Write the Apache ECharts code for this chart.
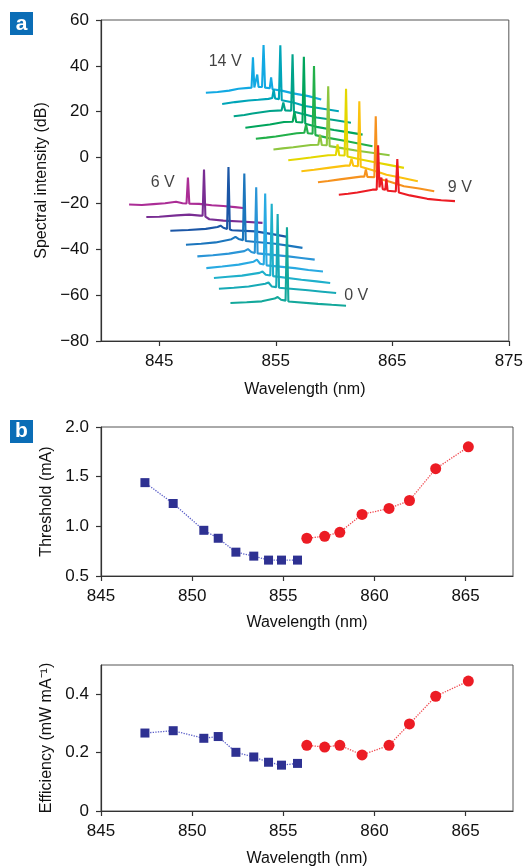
<!DOCTYPE html>
<html>
<head>
<meta charset="utf-8">
<script src="https://cdn.jsdelivr.net/npm/echarts@6/dist/echarts.min.js"></script>
<style>
  html, body { margin: 0; padding: 0; background: #fff; }
  #chart { width: 526px; height: 868px; }
</style>
</head>
<body>
<div id="chart"></div>
<script>
// ---- (a) emission spectra, [wavelength nm, intensity dB] ----
// upper stack: 14 V (top) down to 9 V (bottom)
const spec14V = [[849.00,28.3],[850.0,28.6],[851.0,29.2],[851.8,30.0],[852.67,30.4],[852.92,30.5],[853.04,43.7],[853.16,30.6],[853.30,31.0],[853.41,36.2],[853.52,30.8],[853.82,30.8],[853.95,49.1],[854.08,30.5],[854.48,30.2],[854.60,35.0],[854.72,29.8],[855.5,29.2],[856.5,28.0],[857.8,26.8],[858.90,25.3]];
const specU2 = [[850.40,23.4],[851.5,24.2],[852.67,24.9],[853.5,25.2],[854.37,25.6],[854.70,26.0],[854.82,29.7],[854.94,25.8],[855.27,25.5],[855.39,49.0],[855.51,25.0],[856.5,24.0],[857.5,22.5],[858.8,21.5],[860.41,20.2]];
const specU3 = [[851.39,18.0],[852.3,18.6],[853.0,19.2],[854.5,20.3],[855.5,20.6],[855.65,24.0],[855.8,20.6],[856.32,20.4],[856.44,45.0],[856.56,20.0],[857.5,18.8],[858.5,17.5],[860.0,16.4],[861.45,15.2]];
const specU4 = [[852.39,13.0],[853.5,13.8],[854.5,14.4],[855.7,15.5],[856.45,15.6],[856.6,20.0],[856.75,15.5],[857.29,15.3],[857.41,44.0],[857.53,14.8],[858.5,13.4],[860.0,12.0],[861.3,11.0],[862.45,10.0]];
const specU5 = [[853.29,8.2],[854.2,8.7],[855.0,9.2],[856.8,10.6],[857.45,10.8],[857.6,14.4],[857.75,10.6],[858.16,10.4],[858.28,39.9],[858.40,9.8],[859.5,8.6],[861.0,7.2],[862.2,6.0],[863.30,4.9]];
const specU6 = [[854.80,3.5],[855.6,4.0],[856.5,4.5],[858.0,5.5],[858.65,5.6],[858.8,10.0],[858.95,5.5],[859.38,5.4],[859.50,31.1],[859.62,5.0],[860.8,4.0],[862.0,3.0],[863.4,2.0],[864.77,1.0]];
const specU7 = [[856.07,-1.2],[857.0,-0.6],[858.0,0.0],[859.5,1.0],[860.15,1.1],[860.3,5.7],[860.45,1.0],[860.91,0.9],[861.03,30.0],[861.15,0.5],[862.3,-0.8],[863.5,-2.0],[864.8,-3.3],[866.0,-4.5]];
const specU8 = [[857.20,-6.0],[858.3,-5.3],[859.5,-4.5],[861.0,-3.5],[861.35,-3.5],[861.5,-0.5],[861.65,-3.6],[862.05,-3.8],[862.17,24.6],[862.29,-4.0],[863.4,-5.6],[864.5,-7.5],[865.8,-8.8],[867.19,-10.3]];
const specU9 = [[858.62,-10.8],[859.5,-10.2],[860.5,-9.5],[862.3,-8.3],[862.6,-8.3],[862.73,-5.2],[862.86,-8.4],[863.46,-8.6],[863.58,18.0],[863.70,-9.0],[864.8,-10.5],[866.0,-12.5],[867.3,-13.5],[868.60,-14.7]];
const spec9V = [[860.41,-16.2],[861.2,-15.8],[862.0,-15.2],[863.3,-14.0],[863.66,-14.0],[863.78,5.4],[863.90,-13.0],[863.98,-13.5],[864.06,-8.7],[864.18,-13.8],[864.40,-14.0],[864.49,-9.2],[864.60,-14.5],[865.30,-14.8],[865.43,-0.6],[865.56,-15.2],[866.5,-16.5],[868.0,-18.0],[869.2,-18.6],[870.38,-19.0]];

// lower stack: 6 V (top) down to 0 V (bottom)
const spec6V = [[842.41,-20.5],[843.5,-20.7],[844.5,-20.3],[845.5,-19.9],[846.44,-19.3],[847.0,-19.9],[847.34,-20.0],[847.46,-8.7],[847.58,-20.1],[848.42,-20.2],[849.5,-20.8],[850.5,-21.1],[851.5,-21.6],[852.39,-22.1]];
const specL2 = [[843.89,-25.9],[845.0,-25.8],[846.5,-25.2],[847.57,-24.9],[848.5,-25.3],[848.72,-25.4],[848.84,-5.2],[848.96,-25.8],[849.3,-26.9],[850.5,-27.5],[852.0,-27.9],[853.86,-28.5]];
const specL3 = [[845.95,-31.9],[847.5,-31.6],[848.99,-31.1],[850.0,-30.3],[850.26,-29.7],[850.5,-30.6],[850.82,-31.1],[850.94,-4.1],[851.06,-31.4],[851.25,-31.7],[853.24,-32.2],[854.7,-33.4],[855.99,-34.6]];
const specL4 = [[847.29,-38.0],[848.6,-37.6],[849.84,-37.0],[851.2,-35.6],[851.54,-34.6],[851.8,-35.5],[852.18,-36.0],[852.30,-7.0],[852.42,-36.4],[852.53,-36.5],[854.94,-37.6],[856.2,-38.5],[857.29,-39.4]];
const specL5 = [[848.27,-43.1],[849.6,-42.6],[850.97,-41.9],[852.3,-40.8],[852.61,-39.9],[852.9,-41.2],[853.20,-41.6],[853.32,-13.0],[853.44,-41.8],[853.52,-41.9],[856.07,-43.1],[857.2,-43.8],[858.34,-44.5]];
const specL6 = [[849.04,-48.2],[850.4,-47.5],[851.82,-46.7],[853.1,-45.4],[853.38,-44.5],[853.66,-46.3],[853.97,-46.6],[854.09,-15.7],[854.21,-47.0],[854.37,-47.2],[856.64,-48.2],[857.8,-49.0],[859.05,-49.7]];
const specL7 = [[849.69,-52.5],[850.9,-52.0],[852.10,-51.5],[853.6,-50.3],[853.86,-49.7],[854.14,-51.1],[854.53,-51.4],[854.65,-20.1],[854.77,-51.7],[857.20,-53.3],[858.5,-54.0],[859.67,-54.7]];
const specL8 = [[850.12,-57.2],[851.4,-56.8],[852.67,-56.2],[854.1,-55.0],[854.37,-54.5],[854.65,-56.2],[855.04,-56.5],[855.16,-24.6],[855.28,-56.8],[855.37,-56.9],[857.77,-57.9],[859.0,-58.5],[860.18,-59.1]];
const spec0V = [[851.11,-63.4],[852.5,-63.1],[853.80,-62.7],[854.9,-61.5],[855.16,-60.8],[855.45,-62.0],[855.84,-62.4],[855.96,-30.4],[856.08,-62.8],[856.22,-63.2],[858.62,-63.8],[859.8,-64.2],[861.03,-64.6]];

const upperSpectra = [spec14V, specU2, specU3, specU4, specU5, specU6, specU7, specU8, specU9, spec9V];
const upperColors = ['#12a9e3', '#00a5b8', '#00a38a', '#00a55c', '#22b04a', '#8ec63f', '#e4d700', '#fbc20f', '#f6921e', '#ec1c24'];
const lowerSpectra = [spec6V, specL2, specL3, specL4, specL5, specL6, specL7, specL8, spec0V];
const lowerColors = ['#ab2d96', '#792d93', '#1b56a6', '#1c76bd', '#2a95d7', '#29aae2', '#1fb0cb', '#17aab6', '#13a89b'];

// voltage labels [text, wavelength, dB]
const voltLabels = [['14 V', 850.65, 41.8], ['6 V', 845.3, -10.9], ['9 V', 870.8, -13.1], ['0 V', 861.9, -60.3]];

// axis ticks
const ticksXa = [845, 855, 865, 875];
const ticksXb = [845, 850, 855, 860, 865];
const ticksEff = [0, 0.2, 0.4];

// ---- (b) threshold and slope efficiency ----
const blueWl = [847.41, 848.96, 850.64, 851.43, 852.40, 853.38, 854.19, 854.90, 855.78];
const redWl = [856.29, 857.27, 858.10, 859.32, 860.80, 861.92, 863.36, 865.15];
const thrBlue = [1.44, 1.23, 0.96, 0.88, 0.74, 0.70, 0.66, 0.66, 0.66];
const thrRed = [0.88, 0.90, 0.94, 1.12, 1.18, 1.26, 1.58, 1.80];
const effBlue = [0.267, 0.275, 0.249, 0.255, 0.201, 0.185, 0.167, 0.157, 0.163];
const effRed = [0.225, 0.219, 0.225, 0.192, 0.225, 0.298, 0.393, 0.445];

const FONT = '"Liberation Sans Narrow", "Liberation Sans", Arial, sans-serif';
const TXT = '#111111';
const AXIS = { color: '#333333', width: 1.2 };
const TICK_FS = 17;
const NAME_FS = 16;
const pair = (xs, ys) => xs.map((x, i) => [x, ys[i]]);
const minus = v => (v < 0 ? '\u2212' + Math.abs(v) : String(v));

function xAxisDef(grid, min, max, ticks, gap) {
  return {
    gridIndex: grid, type: 'value', min: min, max: max,
    axisLine: { show: true, onZero: false, lineStyle: AXIS },
    axisTick: { show: true, length: 5, customValues: ticks, lineStyle: AXIS },
    axisLabel: { customValues: ticks, fontSize: TICK_FS, fontFamily: FONT, color: TXT, margin: 12 },
    splitLine: { show: false },
    name: 'Wavelength (nm)', nameLocation: 'middle', nameGap: gap,
    nameTextStyle: { fontSize: NAME_FS, fontFamily: FONT, color: TXT }
  };
}
function yAxisDef(grid, min, max, extra, name, gap) {
  return Object.assign({
    gridIndex: grid, type: 'value', min: min, max: max,
    axisLine: { show: true, onZero: false, lineStyle: AXIS },
    axisTick: { show: true, length: 5, lineStyle: AXIS },
    splitLine: { show: false },
    name: name, nameLocation: 'middle', nameGap: gap,
    nameTextStyle: { fontSize: NAME_FS, fontFamily: FONT, color: TXT }
  }, extra);
}
const yLabel = fmt => ({ fontSize: TICK_FS, fontFamily: FONT, color: TXT, margin: 12, formatter: fmt });

const chart = echarts.init(document.getElementById('chart'), null, { renderer: 'canvas' });

const series = [];
upperSpectra.concat(lowerSpectra).forEach((d, i) => {
  const color = i < upperSpectra.length ? upperColors[i] : lowerColors[i - upperSpectra.length];
  series.push({
    type: 'line', xAxisIndex: 0, yAxisIndex: 0, data: d, symbol: 'none',
    lineStyle: { color: color, width: 2.1 }, silent: true
  });
});
series.push({
  type: 'scatter', xAxisIndex: 0, yAxisIndex: 0, symbolSize: 0,
  data: voltLabels.map(v => ({ value: [v[1], v[2]], name: v[0] })),
  label: { show: true, position: 'inside', formatter: p => p.name, fontSize: 16, fontFamily: FONT, color: TXT },
  silent: true
});

const lineB = { type: 'dotted', width: 1.3, color: '#5a5ec8' };
const lineR = { type: 'dotted', width: 1.3, color: '#f0484e' };
[[1, thrBlue, thrRed], [2, effBlue, effRed]].forEach(([g, b, r]) => {
  series.push({
    type: 'line', xAxisIndex: g, yAxisIndex: g, data: pair(blueWl, b),
    symbol: 'rect', symbolSize: 9, itemStyle: { color: '#2e3192' }, lineStyle: lineB, z: 3
  });
  series.push({
    type: 'line', xAxisIndex: g, yAxisIndex: g, data: pair(redWl, r),
    symbol: 'circle', symbolSize: 11, itemStyle: { color: '#ec1c24' }, lineStyle: lineR, z: 3
  });
});

const border = { show: true, borderColor: '#555555', borderWidth: 1 };

chart.setOption({
  animation: false,
  backgroundColor: '#fff',
  grid: [
    Object.assign({ left: 101, top: 20, width: 411, height: 321 }, border),
    Object.assign({ left: 101, top: 427, width: 412, height: 149 }, border),
    Object.assign({ left: 101, top: 665, width: 412, height: 147 }, border)
  ],
  xAxis: [
    xAxisDef(0, 840, 875, ticksXa, 41),
    xAxisDef(1, 845, 867.6, ticksXb, 39),
    xAxisDef(2, 845, 867.6, ticksXb, 40)
  ],
  yAxis: [
    yAxisDef(0, -80, 60, { interval: 20, axisLabel: yLabel(minus) }, 'Spectral intensity (dB)', 49),
    yAxisDef(1, 0.5, 2.0, { interval: 0.5, axisLabel: yLabel(v => v.toFixed(1)) }, 'Threshold (mA)', 44),
    yAxisDef(2, 0, 0.5, {
      axisTick: { show: true, length: 5, customValues: ticksEff, lineStyle: AXIS },
      axisLabel: Object.assign({ customValues: ticksEff }, yLabel(v => (v === 0 ? '0' : v.toFixed(1))))
    }, 'Efficiency (mW mA\u207B\u00B9)', 44)
  ],
  series: series,
  graphic: [
    { type: 'rect', shape: { x: 10, y: 12, width: 23, height: 23 }, style: { fill: '#0b6db6' }, silent: true },
    { type: 'text', style: { x: 21.5, y: 24, text: 'a', fill: '#fff', font: 'bold 21px "Liberation Sans", Arial, sans-serif', align: 'center', verticalAlign: 'middle' }, silent: true },
    { type: 'rect', shape: { x: 10, y: 420, width: 23, height: 23 }, style: { fill: '#0b6db6' }, silent: true },
    { type: 'text', style: { x: 21.5, y: 431, text: 'b', fill: '#fff', font: 'bold 21px "Liberation Sans", Arial, sans-serif', align: 'center', verticalAlign: 'middle' }, silent: true }
  ]
});
</script>
</body>
</html>
